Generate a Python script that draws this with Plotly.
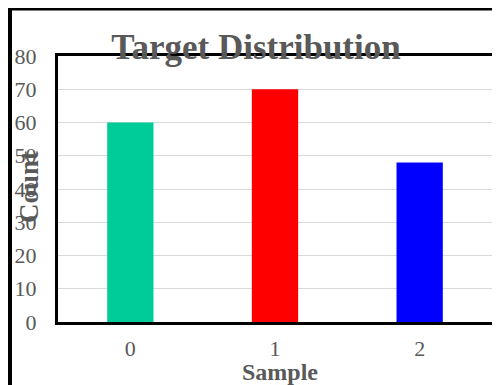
import plotly.graph_objects as go

categories = ["0", "1", "2"]
counts = [60, 70, 48]
bar_colors = ["#00CC99", "#FF0000", "#0000FF"]
y_ticks = [0, 10, 20, 30, 40, 50, 60, 70, 80]

FONT = "Liberation Serif"
GRAY = "#595959"

fig = go.Figure()
fig.add_trace(go.Bar(
    x=[0, 1, 2], y=counts, marker=dict(color=bar_colors, line=dict(width=0)),
    width=0.32, showlegend=False,
))

W, H = 500, 385
L, T = 50, 48
R = W - 484
B = H - 314
pw = W - L - R
ph = H - T - B

def px_x(px):
    return (px - L) / pw

def px_y(py):
    return (H - B - py) / ph

fig.update_layout(
    width=W, height=H,
    margin=dict(l=L, r=R, t=T, b=B, pad=0, autoexpand=False),
    paper_bgcolor="white", plot_bgcolor="white",
    font=dict(family=FONT, color=GRAY),
    title=dict(text="<b>Target Distribution</b>", font=dict(family=FONT, size=35, color=GRAY),
               x=248 / W, xanchor="center", xref="container",
               y=1 - 39 / H, yanchor="middle", yref="container"),
    xaxis=dict(range=[-0.5, 2.5], tickvals=[0, 1, 2], ticktext=categories,
               tickfont=dict(family=FONT, size=22, color=GRAY), automargin=False,
               showline=True, linecolor="black", linewidth=3, mirror=True,
               showgrid=False, zeroline=False, ticks="", ticklabelstandoff=5),
    yaxis=dict(range=[0, 80], tickvals=y_ticks, automargin=False,
               tickfont=dict(family=FONT, size=22, color=GRAY),
               showline=True, linecolor="black", linewidth=3, mirror=True,
               showgrid=True, gridcolor="#D9D9D9", gridwidth=1,
               zeroline=True, zerolinecolor="#BFBFBF", zerolinewidth=1,
               ticks="", ticklabelstandoff=14),
    bargap=0.68,
)

fig.add_annotation(text="<b>Sample</b>", xref="paper", yref="paper",
                   x=px_x(272), y=px_y(364), xanchor="center", yanchor="middle",
                   showarrow=False, font=dict(family=FONT, size=24, color=GRAY))
fig.add_annotation(text="<b>Count</b>", xref="paper", yref="paper",
                   x=px_x(21), y=px_y(179), xanchor="center", yanchor="middle",
                   textangle=-90, showarrow=False,
                   font=dict(family=FONT, size=27, color=GRAY))

fig.add_shape(type="rect", xref="paper", yref="paper",
              x0=px_x(2), x1=px_x(498), y0=px_y(383), y1=px_y(0.5),
              line=dict(color="black", width=4), fillcolor="rgba(0,0,0,0)", layer="above")

fig.write_html("out.html")
